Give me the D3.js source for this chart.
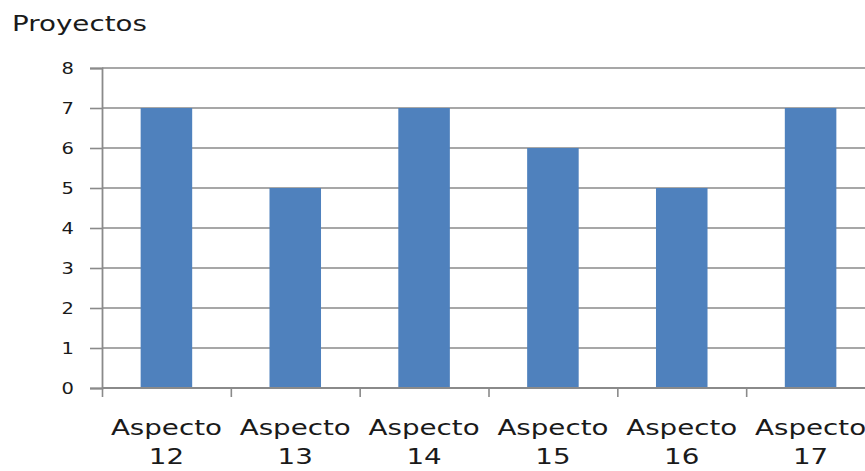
<!DOCTYPE html>
<html>
<head>
<meta charset="utf-8">
<script src="https://cdn.jsdelivr.net/npm/d3@7"></script>
<style>
  html, body { margin: 0; padding: 0; background: #fff; }
  svg { display: block; }
  text { font-family: "DejaVu Sans", Verdana, sans-serif; fill: #1a1a1a; }
</style>
</head>
<body>
<svg id="chart" width="865" height="471"></svg>
<script>
// Number of projects per aspect
const categories = ["Aspecto 12", "Aspecto 13", "Aspecto 14", "Aspecto 15", "Aspecto 16", "Aspecto 17"];
const values = [7, 5, 7, 6, 5, 7];
const yTicks = [0, 1, 2, 3, 4, 5, 6, 7, 8];
const yTitle = "Proyectos";

const svg = d3.select("#chart");
const plotLeft = 102, plotRight = 875, plotTop = 68, plotBottom = 388;
const stretch = 1.32;       // wide letterforms
const gridColor = "#8a8a8a";
const barColor = "#4f81bd";

const y = d3.scaleLinear().domain([0, 8]).range([plotBottom, plotTop]);
const x = d3.scaleBand().domain(categories).range([plotLeft, plotRight])
  .paddingInner(0.6).paddingOuter(0.3);
const edge = d3.scaleLinear().domain([0, categories.length]).range([plotLeft, plotRight]);

// horizontal gridlines
svg.append("g").selectAll("line")
  .data(yTicks.filter(d => d > 0))
  .join("line")
  .attr("x1", plotLeft).attr("x2", plotRight)
  .attr("y1", d => y(d)).attr("y2", d => y(d))
  .attr("stroke", gridColor).attr("stroke-width", 1.6);

// bars
svg.append("g").selectAll("rect")
  .data(categories)
  .join("rect")
  .attr("x", d => x(d))
  .attr("width", x.bandwidth())
  .attr("y", (d, i) => y(values[i]))
  .attr("height", (d, i) => y(0) - y(values[i]))
  .attr("fill", barColor);

// value axis
const yAxis = svg.append("g")
  .attr("transform", `translate(${plotLeft},0)`)
  .call(d3.axisLeft(y).tickValues(yTicks).tickSize(12).tickFormat(d3.format("d")));
yAxis.select(".domain").attr("stroke", gridColor).attr("stroke-width", 1.8);
yAxis.selectAll(".tick line").attr("stroke", gridColor).attr("stroke-width", 1.6);
yAxis.selectAll(".tick text")
  .attr("x", 0).attr("dy", "0.36em")
  .attr("transform", "translate(-28,0) scale(1.3,1)")
  .style("font-size", "15px").style("fill", "#1a1a1a")
  .style("font-family", "DejaVu Sans, Verdana, sans-serif");

// category axis: tick marks at band edges
const xAxis = svg.append("g")
  .attr("transform", `translate(0,${plotBottom})`)
  .call(d3.axisBottom(edge).tickValues(d3.range(categories.length + 1))
    .tickSize(9).tickFormat(""));
xAxis.select(".domain").attr("stroke", gridColor).attr("stroke-width", 1.8)
  .attr("d", `M${plotLeft},0H${plotRight}`);
xAxis.selectAll(".tick line").attr("stroke", gridColor).attr("stroke-width", 1.6);

// category labels, two lines each
const labels = svg.append("g").selectAll("text")
  .data(categories)
  .join("text")
  .attr("text-anchor", "middle")
  .attr("transform", d => `translate(${x(d) + x.bandwidth() / 2},435) scale(${stretch},1)`)
  .style("font-size", "21px");
labels.selectAll("tspan")
  .data(d => d.split(" "))
  .join("tspan")
  .attr("x", 0)
  .attr("y", (d, i) => i * 29)
  .text(d => d);

// axis title
svg.append("text")
  .attr("transform", `translate(12,31) scale(${stretch},1)`)
  .style("font-size", "21px")
  .text(yTitle);
</script>
</body>
</html>
